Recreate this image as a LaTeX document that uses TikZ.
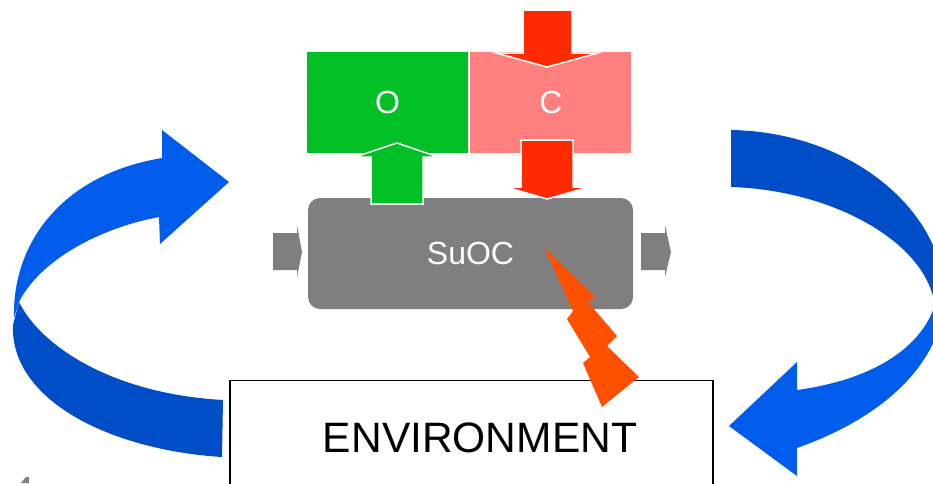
\documentclass[tikz,border=0pt]{standalone}
\usepackage{fontspec}
\setmainfont{Liberation Sans}
\usetikzlibrary{positioning}
\definecolor{ogreen}{HTML}{00C026}
\definecolor{cpink}{HTML}{FF7F7F}
\definecolor{cred}{HTML}{FF2A00}
\definecolor{boltorange}{HTML}{FF5000}
\definecolor{suocgray}{HTML}{7F7F7F}
\definecolor{loopblue}{HTML}{005DEB}
\definecolor{loopdark}{HTML}{004DC8}

\begin{document}
\begin{tikzpicture}[x=1pt, y=-1pt, every node/.style={font=\fontsize{32}{35}\selectfont, text=white, inner sep=0pt}]
  \tikzset{
    ocbox/.style={minimum width=161pt, minimum height=101pt},
    blockarrow/.style={draw=white, line width=1.5pt, line join=miter},
    sidearrow/.style={fill=suocgray}
  }
  \useasboundingbox (0,0) rectangle (933,483);
  \clip (0,0) rectangle (933,483);

  % observer / controller and the system under control
  \node[ocbox, fill=ogreen] (obs) at (387.5,102.5) {O};
  \node[ocbox, fill=cpink, right=2pt of obs] (ctrl) {C};
  \node[fill=suocgray, rounded corners=12pt, minimum width=325pt, minimum height=111pt] (suoc) at (470.5,253.5) {SuOC};

  % in / out of the SuOC
  \fill[sidearrow] (273,233) -- (297,233) -- (297,225) -- (302,252) -- (297,277) -- (297,270) -- (273,270) -- cycle;
  \fill[sidearrow] (641,233) -- (665,233) -- (665,225) -- (671,252) -- (665,277) -- (665,270) -- (641,270) -- cycle;

  % observation and control arrows
  \filldraw[blockarrow, fill=ogreen] (371,204) -- (423,204) -- (423,157) -- (438,157) -- (397,143) -- (355,157) -- (371,157) -- cycle;
  \filldraw[blockarrow, fill=cred] (521,140) -- (573,140) -- (573,187) -- (589,187) -- (547,199) -- (506,187) -- (521,187) -- cycle;
  \filldraw[blockarrow, fill=cred] (523,10) -- (572,10) -- (572,53) -- (598,53) -- (547,67) -- (496,53) -- (523,53) -- cycle;

  % environment
  \node[draw=black, line width=1.3pt, minimum width=483pt, minimum height=150pt, anchor=north] (env) at (471.5,380) {};
  \node[text=black, font=\fontsize{42.5}{46}\selectfont] (envlabel) at (480,437.5) {ENVIRONMENT};

  % disturbance
  \fill[boltorange] (544,247) -- (595,297) -- (588,302) -- (617,336) -- (607,346) -- (639,377) -- (602,407)
    -- (583,363) -- (590,357) -- (567,319) -- (573,311) -- cycle;

  % left loop
  \fill[loopdark] (19,302) .. controls (42,348) and (115,394) .. (223,400) -- (222,457)
    .. controls (110,450) and (10,400) .. (13,325) -- cycle;
  \fill[loopblue] (14,318) .. controls (12,245) and (60,175) .. (162,158) -- (162,130) -- (229,182) -- (160,244) -- (159,217)
    .. controls (100,228) and (40,260) .. (19,302) -- cycle;

  % right loop
  \fill[loopdark] (731,130) .. controls (850,132) and (945,210) .. (945,300) -- (935,305)
    .. controls (925,240) and (830,190) .. (731,187) -- cycle;
  \fill[loopblue] (935,305) .. controls (920,350) and (870,380) .. (797,390) -- (797,362) -- (729,426) -- (797,476) -- (797,448)
    .. controls (890,415) and (940,360) .. (945,300) -- cycle;

  % cut-off mark
  \fill[suocgray] (21,483) -- (26,477) -- (29,477) -- (29,483) -- cycle;
\end{tikzpicture}
\end{document}
